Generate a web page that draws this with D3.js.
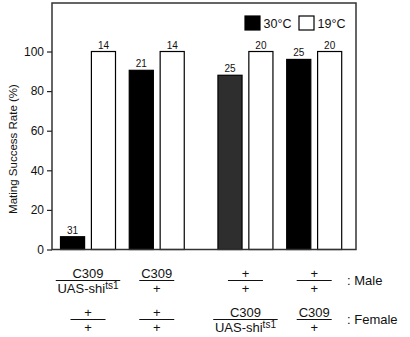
<!DOCTYPE html>
<html>
<head>
<meta charset="utf-8">
<script src="https://cdn.jsdelivr.net/npm/d3@7"></script>
<style>
  html, body { margin: 0; padding: 0; background: #fff; }
  svg { display: block; font-family: "Liberation Sans", Arial, sans-serif; }
</style>
</head>
<body>
<svg id="chart" width="410" height="337"></svg>
<script>
// ---------------- data ----------------
const groups = ["G1", "G2", "G3", "G4"];
const series = ["30°C", "19°C"];
const hotValues = [6.45, 90.5, 88, 96];       // 30°C mating success (%)
const coldValues = [100, 100, 100, 100];      // 19°C mating success (%)
const hotN = [31, 21, 25, 25];
const coldN = [14, 14, 20, 20];
const maleNum = ["C309", "C309", "+", "+"];
const maleDen = ["UAS-shi|ts1", "+", "+", "+"];
const femaleNum = ["+", "+", "C309", "C309"];
const femaleDen = ["+", "+", "UAS-shi|ts1", "+"];
const yTicks = [0, 20, 40, 60, 80, 100];
const yTitle = "Mating Success Rate (%)";
const rowLabels = [": Male", ": Female"];

// ---------------- styles ----------------
const hotFills = ["#000", "#000", "#2e2e2e", "#000"];

const svg = d3.select("#chart");
const plot = { left: 52, right: 356, top: 3, bottom: 249.5 };

const y = d3.scaleLinear().domain([0, 124.5]).range([plot.bottom, plot.top]);
// groups 3 & 4 are separated from 1 & 2 by an extra gap
const extraGap = 0.29;
const gx = d3.scaleLinear().domain([0, 3 + extraGap]).range([88, 314.2]);
const gpos = i => gx(i + (i >= 2 ? extraGap : 0));
const inner = d3.scaleBand().domain(series).range([-27.5, 27.5]).paddingInner(0.22);

// bars
const rows = groups.map((g, i) => ({ i, hot: hotValues[i], cold: coldValues[i], nh: hotN[i], nc: coldN[i] }));
const barData = [];
rows.forEach(r => {
  barData.push({ i: r.i, s: series[0], v: r.hot, n: r.nh, fill: hotFills[r.i] });
  barData.push({ i: r.i, s: series[1], v: r.cold, n: r.nc, fill: "#fff" });
});

svg.append("g").selectAll("rect").data(barData).join("rect")
  .attr("x", d => gpos(d.i) + inner(d.s))
  .attr("width", inner.bandwidth())
  .attr("y", d => y(d.v))
  .attr("height", d => y(0) - y(d.v))
  .attr("fill", d => d.fill)
  .attr("stroke", "#000")
  .attr("stroke-width", 1.2);

svg.append("g").selectAll("text").data(barData).join("text")
  .attr("x", d => gpos(d.i) + inner(d.s) + inner.bandwidth() / 2)
  .attr("y", d => y(d.v) - 3)
  .attr("text-anchor", "middle")
  .attr("font-size", 10)
  .attr("fill", "#111")
  .text(d => d.n);

// frame
svg.append("rect")
  .attr("x", plot.left).attr("y", plot.top)
  .attr("width", plot.right - plot.left).attr("height", plot.bottom - plot.top)
  .attr("fill", "none").attr("stroke", "#333").attr("stroke-width", 1.5);

// y axis
const yAxis = svg.append("g")
  .attr("transform", `translate(${plot.left},0)`)
  .call(d3.axisLeft(y).tickValues(yTicks).tickSize(5).tickPadding(3).tickFormat(d3.format("d")));
yAxis.select(".domain").remove();
yAxis.selectAll(".tick line").attr("stroke", "#222").attr("stroke-width", 1.2);
yAxis.selectAll(".tick text").attr("font-size", 12).attr("fill", "#111")
  .attr("font-family", "Liberation Sans, Arial, sans-serif");

svg.append("text")
  .attr("transform", "translate(16.5,149) rotate(-90)")
  .attr("text-anchor", "middle")
  .attr("font-size", 11.5)
  .attr("fill", "#111")
  .text(yTitle);

// legend
const legend = svg.append("g");
const legX = d3.scalePoint().domain(series).range([245, 299]);
legend.selectAll("rect").data(series).join("rect")
  .attr("x", d => legX(d)).attr("y", 16)
  .attr("width", 15).attr("height", 14)
  .attr("fill", (d, i) => i === 0 ? "#000" : "#fff")
  .attr("stroke", "#000").attr("stroke-width", 1.2);
legend.selectAll("text").data(series).join("text")
  .attr("x", d => legX(d) + 18.5).attr("y", 28)
  .attr("font-size", 12.5).attr("fill", "#111")
  .text(d => d);

// genotype fractions
function addLabel(g, x, yb, label) {
  const parts = label.split("|");
  const t = g.append("text").attr("x", x).attr("y", yb)
    .attr("text-anchor", "middle").attr("font-size", 13).attr("fill", "#111");
  t.append("tspan").text(parts[0]);
  if (parts[1]) t.append("tspan").attr("font-size", 10).attr("dy", -4.5).text(parts[1]);
  return t;
}
function fraction(cx, rowY, num, den) {
  const g = svg.append("g");
  const tn = addLabel(g, cx, rowY - 3, num);
  const td = addLabel(g, cx, rowY + 12.5, den);
  const w = Math.max(tn.node().getBBox().width, td.node().getBBox().width);
  const half = Math.max(17.5, w / 2 + 1.5);
  g.append("line")
    .attr("x1", cx - half).attr("x2", cx + half)
    .attr("y1", rowY).attr("y2", rowY)
    .attr("stroke", "#111").attr("stroke-width", 1.2);
}
const rowYs = [280.5, 319.5];
groups.forEach((g, i) => {
  fraction(gpos(i), rowYs[0], maleNum[i], maleDen[i]);
  fraction(gpos(i), rowYs[1], femaleNum[i], femaleDen[i]);
});
svg.append("g").selectAll("text").data(rowLabels).join("text")
  .attr("x", 347).attr("y", (d, i) => rowYs[i] + 4.5)
  .attr("font-size", 13).attr("fill", "#111")
  .text(d => d);
</script>
</body>
</html>
